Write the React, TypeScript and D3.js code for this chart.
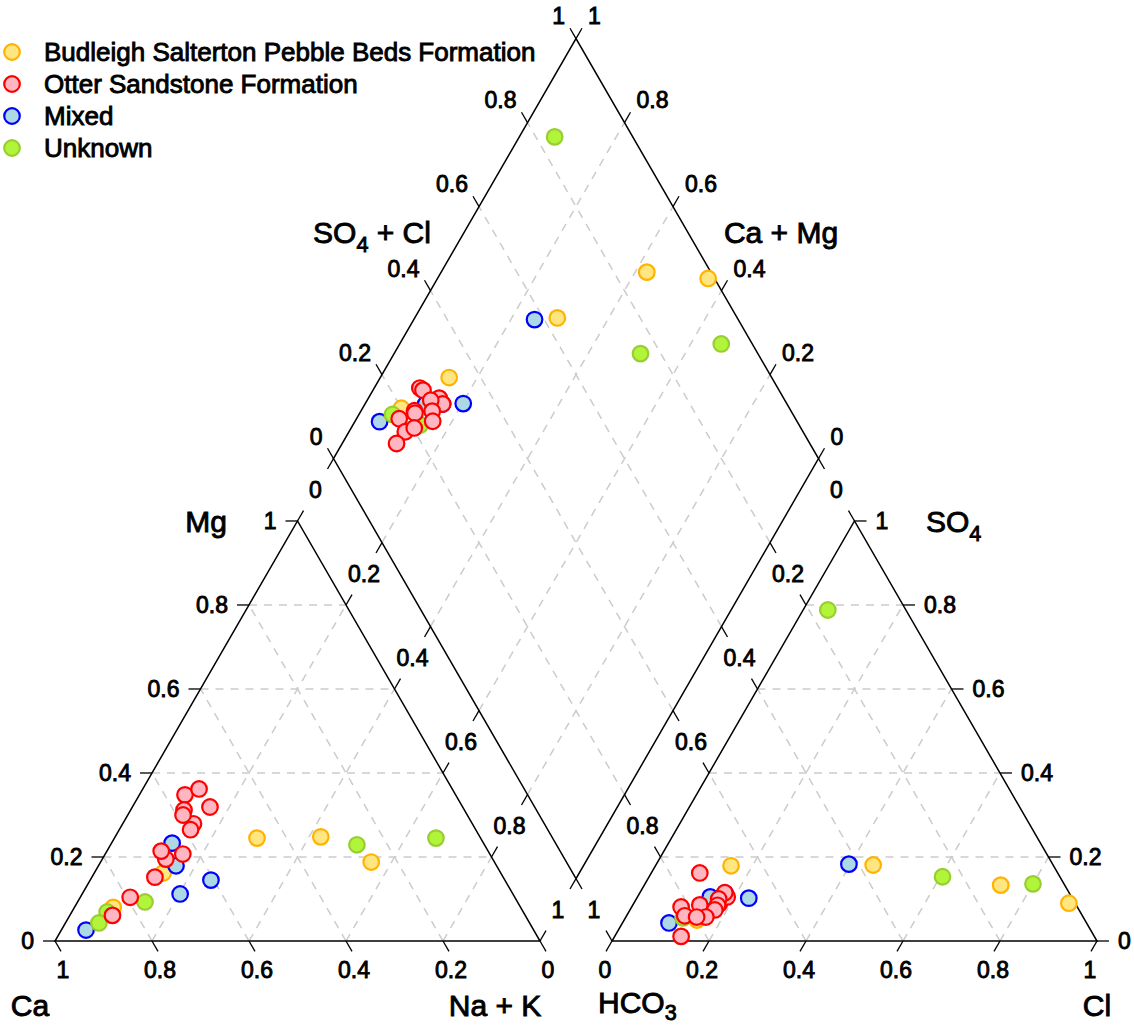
import React from 'react';
import * as d3 from 'd3';

type Sample = { mg: number; nak: number; so4: number; cl: number };

// Milliequivalent fractions. Ca = 1 - Mg - (Na+K); HCO3 = 1 - SO4 - Cl.
const budleigh: Sample[] = [
  { mg: 0.248, nak: 0.424, so4: 0.133, cl: 0.735 },
  { mg: 0.188, nak: 0.558, so4: 0.09, cl: 0.897 },
  { mg: 0.245, nak: 0.294, so4: 0.181, cl: 0.448 },
  { mg: 0.162, nak: 0.142, so4: 0.179, cl: 0.156 },
  { mg: 0.08, nak: 0.08, so4: 0.05, cl: 0.15 },
];

const mixed: Sample[] = [
  { mg: 0.145, nak: 0.249, so4: 0.183, cl: 0.397 },
  { mg: 0.112, nak: 0.202, so4: 0.102, cl: 0.231 },
  { mg: 0.026, nak: 0.051, so4: 0.043, cl: 0.096 },
  { mg: 0.179, nak: 0.16, so4: 0.114, cl: 0.176 },
  { mg: 0.233, nak: 0.125, so4: 0.105, cl: 0.15 },
];

const unknown: Sample[] = [
  { mg: 0.069, nak: 0.073, so4: 0.788, cl: 0.051 },
  { mg: 0.229, nak: 0.508, so4: 0.153, cl: 0.605 },
  { mg: 0.245, nak: 0.663, so4: 0.136, cl: 0.8 },
  { mg: 0.043, nak: 0.069, so4: 0.055, cl: 0.119 },
  { mg: 0.093, nak: 0.139, so4: 0.062, cl: 0.157 },
];

const otter: Sample[] = [
  { mg: 0.348, nak: 0.094, so4: 0.162, cl: 0.1 },
  { mg: 0.104, nak: 0.103, so4: 0.089, cl: 0.177 },
  { mg: 0.279, nak: 0.146, so4: 0.105, cl: 0.185 },
  { mg: 0.319, nak: 0.16, so4: 0.115, cl: 0.175 },
  { mg: 0.195, nak: 0.131, so4: 0.1, cl: 0.17 },
  { mg: 0.265, nak: 0.147, so4: 0.085, cl: 0.175 },
  { mg: 0.312, nak: 0.11, so4: 0.086, cl: 0.138 },
  { mg: 0.061, nak: 0.088, so4: 0.081, cl: 0.102 },
  { mg: 0.207, nak: 0.16, so4: 0.074, cl: 0.175 },
  { mg: 0.362, nak: 0.116, so4: 0.06, cl: 0.12 },
  { mg: 0.214, nak: 0.112, so4: 0.011, cl: 0.137 },
  { mg: 0.3, nak: 0.114, so4: 0.057, cl: 0.165 },
  { mg: 0.152, nak: 0.13, so4: 0.057, cl: 0.146 },
];

const legendNames = [
  'Budleigh Salterton Pebble Beds Formation',
  'Otter Sandstone Formation',
  'Mixed',
  'Unknown',
];
const fillColors = ['#FFE680', '#FFB6C1', '#ADD8E6', '#B0F53A'];
const strokeColors = ['#FFB300', '#FF0000', '#0000FF', '#9ACD32'];
// draw order: Budleigh, Mixed, Unknown, Otter on top
const drawOrder = [0, 2, 3, 1];
const groupData = [budleigh, otter, mixed, unknown];

const tickValues = [0, 0.2, 0.4, 0.6, 0.8, 1];
const gridValues = [0.2, 0.4, 0.6, 0.8];

const W = 1134;
const H = 1026;
const SIDE = 485;
const GAP = 72;
const LX = 55;
const BASE_Y = 941;
const RX = LX + SIDE + GAP;
const SIN60 = Math.sqrt(3) / 2;
const BX = LX + SIDE + GAP / 2;
const BY = BASE_Y - GAP * SIN60;
const TICK = 12;
const FONT = 'Liberation Sans, Arial, sans-serif';
const TICK_FONT = 23;
const TITLE_FONT = 30;
const LEGEND_FONT = 26;

const side = d3.scaleLinear().domain([0, 1]).range([0, SIDE]);

type Pt = [number, number];
const cationPt = (mg: number, nak: number): Pt => [LX + side(nak + mg / 2), BASE_Y - side(mg) * SIN60];
const anionPt = (so4: number, cl: number): Pt => [RX + side(cl + so4 / 2), BASE_Y - side(so4) * SIN60];
// s = Ca + Mg, t = SO4 + Cl
const diamondPt = (s: number, t: number): Pt => [BX + side(t - s) / 2, BY - side(s + t) * SIN60];

const fmt = (v: number) => (v === 0 ? '0' : v === 1 ? '1' : d3.format('.1f')(v));

const DIR = {
  left: [-1, 0] as Pt,
  right: [1, 0] as Pt,
  upLeft: [-0.5, -SIN60] as Pt,
  upRight: [0.5, -SIN60] as Pt,
  downLeft: [-0.5, SIN60] as Pt,
  downRight: [0.5, SIN60] as Pt,
};

const textStyle = { stroke: '#000', strokeWidth: 0.9 };

function Tick({ p, d }: { p: Pt; d: Pt }) {
  return <line x1={p[0]} y1={p[1]} x2={p[0] + d[0] * TICK} y2={p[1] + d[1] * TICK} stroke="#000" strokeWidth={1.3} />;
}

function Label({ x, y, text, anchor = 'middle' }: { x: number; y: number; text: string; anchor?: string }) {
  return (
    <text x={x} y={y + TICK_FONT * 0.36} textAnchor={anchor as any} fontSize={TICK_FONT} fontFamily={FONT} fill="#000" style={textStyle}>
      {text}
    </text>
  );
}

export default function App() {
  const grid: [Pt, Pt][] = [];
  gridValues.forEach((v) => {
    // cation triangle
    grid.push([cationPt(v, 0), cationPt(v, 1 - v)]);
    grid.push([cationPt(0, 1 - v), cationPt(1 - v, 0)]);
    grid.push([cationPt(0, v), cationPt(1 - v, v)]);
    // anion triangle
    grid.push([anionPt(v, 0), anionPt(v, 1 - v)]);
    grid.push([anionPt(0, v), anionPt(1 - v, v)]);
    grid.push([anionPt(0, 1 - v), anionPt(1 - v, 0)]);
    // diamond
    grid.push([diamondPt(v, 0), diamondPt(v, 1)]);
    grid.push([diamondPt(0, v), diamondPt(1, v)]);
  });

  const outline = d3.line<Pt>();
  const cationTri = outline([cationPt(0, 0), cationPt(0, 1), cationPt(1, 0)]) + 'Z';
  const anionTri = outline([anionPt(0, 0), anionPt(0, 1), anionPt(1, 0)]) + 'Z';
  const diamondPath = outline([diamondPt(0, 0), diamondPt(1, 0), diamondPt(1, 1), diamondPt(0, 1)]) + 'Z';

  const ticks: JSX.Element[] = [];
  const labels: JSX.Element[] = [];
  tickValues.forEach((v, i) => {
    const t = fmt(v);
    // Ca along the cation base
    const pCa = cationPt(0, 1 - v);
    ticks.push(<Tick key={`ca${i}`} p={pCa} d={DIR.downRight} />);
    labels.push(<Label key={`lca${i}`} x={pCa[0] + DIR.downRight[0] * TICK + 2} y={970} text={t} />);
    // Mg along the left edge
    const pMg = cationPt(v, 0);
    ticks.push(<Tick key={`mg${i}`} p={pMg} d={DIR.left} />);
    labels.push(<Label key={`lmg${i}`} x={pMg[0] - TICK - 9} y={pMg[1]} text={t} anchor="end" />);
    // Na+K along the right edge of the cation triangle
    const pNa = cationPt(1 - v, v);
    ticks.push(<Tick key={`na${i}`} p={pNa} d={DIR.upRight} />);
    // Diamond lower-left edge (Na+K)
    const pDl = diamondPt(1 - v, 0);
    ticks.push(<Tick key={`dl${i}`} p={pDl} d={DIR.downLeft} />);
    labels.push(<Label key={`lna${i}`} x={(pNa[0] + pDl[0]) / 2} y={(pNa[1] + pDl[1]) / 2} text={t} />);

    // Cl along the anion base
    const pCl = anionPt(0, v);
    ticks.push(<Tick key={`cl${i}`} p={pCl} d={DIR.downLeft} />);
    labels.push(<Label key={`lcl${i}`} x={pCl[0] + DIR.downLeft[0] * TICK - 1} y={970} text={t} />);
    // SO4 along the right edge
    const pSo = anionPt(v, 1 - v);
    ticks.push(<Tick key={`so${i}`} p={pSo} d={DIR.right} />);
    labels.push(<Label key={`lso${i}`} x={pSo[0] + TICK + 9} y={pSo[1]} text={t} anchor="start" />);
    // HCO3 along the left edge of the anion triangle
    const pHc = anionPt(1 - v, 0);
    ticks.push(<Tick key={`hc${i}`} p={pHc} d={DIR.upLeft} />);
    // Diamond lower-right edge (HCO3)
    const pDr = diamondPt(0, 1 - v);
    ticks.push(<Tick key={`dr${i}`} p={pDr} d={DIR.downRight} />);
    labels.push(<Label key={`lhc${i}`} x={(pHc[0] + pDr[0]) / 2} y={(pHc[1] + pDr[1]) / 2} text={t} />);

    // Diamond upper-left edge (SO4 + Cl)
    const pUl = diamondPt(1, v);
    ticks.push(<Tick key={`ul${i}`} p={pUl} d={DIR.upLeft} />);
    labels.push(
      <Label key={`lul${i}`} x={pUl[0] + DIR.upLeft[0] * TICK - 5} y={pUl[1] + DIR.upLeft[1] * TICK - 12} text={t} anchor="end" />
    );
    // Diamond upper-right edge (Ca + Mg)
    const pUr = diamondPt(v, 1);
    ticks.push(<Tick key={`ur${i}`} p={pUr} d={DIR.upRight} />);
    labels.push(
      <Label key={`lur${i}`} x={pUr[0] + DIR.upRight[0] * TICK + 6} y={pUr[1] + DIR.upRight[1] * TICK - 12} text={t} anchor="start" />
    );
  });

  const R = 7.8;
  const points: JSX.Element[] = [];
  drawOrder.forEach((g) => {
    groupData[g].forEach((p, i) => {
      const c = cationPt(p.mg, p.nak);
      const a = anionPt(p.so4, p.cl);
      const dm = diamondPt(1 - p.nak, p.so4 + p.cl);
      [c, a, dm].forEach((q, k) => {
        points.push(
          <circle key={`p${g}-${i}-${k}`} cx={q[0]} cy={q[1]} r={R} fill={fillColors[g]} stroke={strokeColors[g]} strokeWidth={2.2} />
        );
      });
    });
  });

  const title = (x: number, y: number, main: string, sub?: string, tail?: string, anchor = 'middle', subDrop = 0.3) => (
    <text x={x} y={y + TITLE_FONT * 0.36} textAnchor={anchor as any} fontSize={TITLE_FONT} fontFamily={FONT} style={textStyle}>
      {main}
      {sub && (
        <tspan fontSize={TITLE_FONT * 0.72} dy={TITLE_FONT * subDrop}>
          {sub}
        </tspan>
      )}
      {tail && <tspan dy={sub ? -TITLE_FONT * subDrop : 0}>{tail}</tspan>}
    </text>
  );

  return (
    <svg width={W} height={H} style={{ position: 'absolute', left: 0, top: 0, background: '#fff' }}>
      <rect width={W} height={H} fill="#fff" />
      <g>
        {grid.map(([p, q], i) => (
          <line key={`g${i}`} x1={p[0]} y1={p[1]} x2={q[0]} y2={q[1]} stroke="#CCCCCC" strokeWidth={1.5} strokeDasharray="8,7" />
        ))}
      </g>
      <path d={cationTri} fill="none" stroke="#000" strokeWidth={1.5} />
      <path d={anionTri} fill="none" stroke="#000" strokeWidth={1.5} />
      <path d={diamondPath} fill="none" stroke="#000" strokeWidth={1.5} />
      {ticks}
      {labels}
      {points}
      {title(372, 232, 'SO', '4', ' + Cl')}
      {title(781, 232, 'Ca + Mg')}
      {title(206, 521, 'Mg')}
      {title(926, 521, 'SO', '4', undefined, 'start')}
      {title(30, 1005, 'Ca')}
      {title(495, 1005, 'Na + K')}
      {title(598, 1002, 'HCO', '3', undefined, 'start', 0.24)}
      {title(1097, 1005, 'Cl')}
      <g>
        {legendNames.map((name, i) => (
          <g key={name} transform={`translate(0, ${52 + i * 32})`}>
            <circle cx={12} cy={0} r={R} fill={fillColors[i]} stroke={strokeColors[i]} strokeWidth={2.2} />
            <text x={44} y={LEGEND_FONT * 0.36} fontSize={LEGEND_FONT} fontFamily={FONT} style={textStyle}>
              {name}
            </text>
          </g>
        ))}
      </g>
    </svg>
  );
}
